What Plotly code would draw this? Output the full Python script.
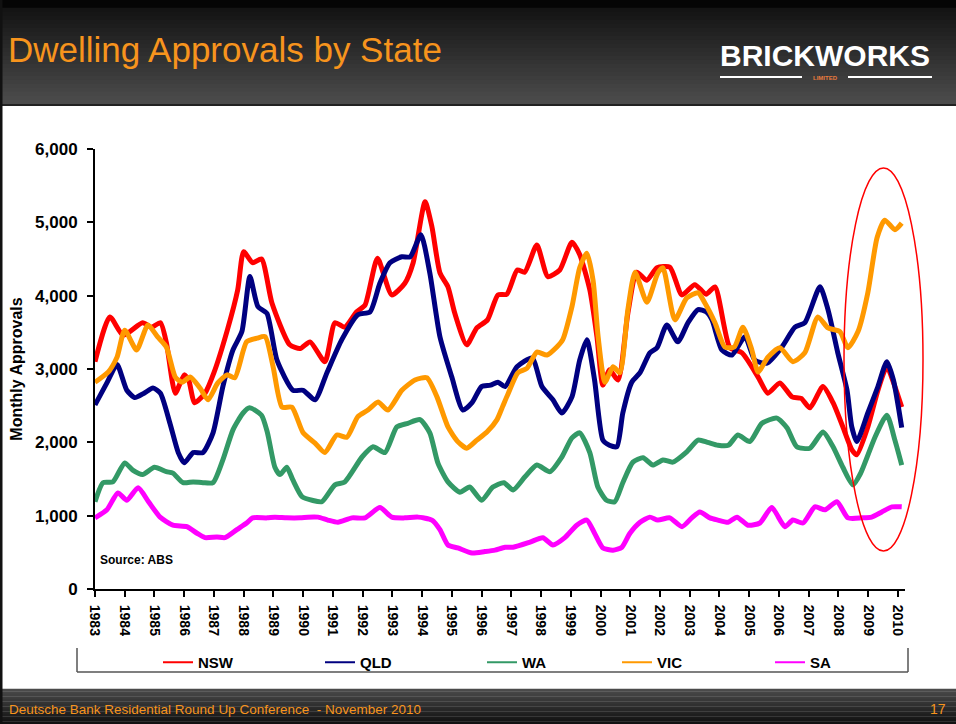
import plotly.graph_objects as go

# ── Data ─────────────────────────────────────────────────────────────────────
YEARS = list(range(1983, 2011))

NSW_X = [1983.0, 1983.5, 1983.95, 1984.6, 1984.9, 1985.2, 1985.4, 1985.7, 1986.0, 1986.15,
         1986.35, 1986.7, 1987.0, 1987.45, 1987.8, 1988.0, 1988.3, 1988.6, 1988.95, 1989.55,
         1989.9, 1990.23, 1990.73, 1991.07, 1991.4, 1991.8, 1992.08, 1992.5, 1992.98, 1993.42,
         1993.7, 1994.1, 1994.33, 1994.6, 1994.87, 1995.1, 1995.5, 1995.84, 1996.2, 1996.55,
         1996.85, 1997.2, 1997.45, 1997.86, 1998.23, 1998.63, 1999.04, 1999.3, 1999.64, 1999.88,
         2000.08, 2000.3, 2000.59, 2000.92, 2001.22, 2001.56, 2001.9, 2002.33, 2002.74, 2003.17,
         2003.55, 2003.85, 2004.35, 2004.76, 2005.3, 2005.63, 2006.03, 2006.44, 2006.75, 2007.04,
         2007.48, 2007.82, 2008.15, 2008.45, 2008.62, 2008.99, 2009.33, 2009.63, 2009.9, 2010.13]
NSW = [3100, 3710, 3460, 3630, 3570, 3630, 3360, 2670, 2920, 2850,
       2540, 2670, 2950, 3530, 4080, 4600, 4450, 4500, 3900, 3330,
       3280, 3370, 3100, 3630, 3570, 3780, 3870, 4510, 4010, 4170,
       4450, 5280, 4940, 4310, 4120, 3760, 3330, 3560, 3670, 4010,
       4020, 4350, 4320, 4690, 4260, 4350, 4730, 4560, 4080, 3440,
       2780, 2990, 2850, 3760, 4320, 4210, 4380, 4390, 4010, 4150,
       4020, 4120, 3290, 3220, 2890, 2670, 2810, 2620, 2600, 2470,
       2760, 2540, 2210, 1900, 1830, 2210, 2710, 3030, 2760, 2480]

QLD_X = [1983.0, 1983.4, 1983.74, 1984.07, 1984.34, 1984.65, 1984.95, 1985.2, 1985.52, 1985.8,
         1986.0, 1986.3, 1986.63, 1986.97, 1987.3, 1987.64, 1987.94, 1988.21, 1988.48, 1988.78,
         1989.12, 1989.66, 1990.0, 1990.4, 1990.8, 1991.3, 1991.84, 1992.25, 1992.58, 1992.92,
         1993.32, 1993.6, 1993.96, 1994.26, 1994.6, 1995.0, 1995.37, 1995.68, 1996.0, 1996.3,
         1996.55, 1996.79, 1997.19, 1997.7, 1998.03, 1998.4, 1998.7, 1999.04, 1999.3, 1999.54,
         1999.8, 2000.08, 2000.3, 2000.55, 2000.75, 2001.05, 2001.33, 2001.66, 2001.9, 2002.23,
         2002.6, 2002.94, 2003.28, 2003.55, 2003.75, 2004.08, 2004.42, 2004.86, 2005.19, 2005.6,
         2006.1, 2006.54, 2006.87, 2007.38, 2007.65, 2007.98, 2008.29, 2008.45, 2008.62, 2008.99,
         2009.33, 2009.63, 2009.85, 2010.13]
QLD = [2510, 2810, 3060, 2710, 2610, 2670, 2740, 2670, 2260, 1860,
       1720, 1860, 1860, 2130, 2760, 3260, 3510, 4260, 3850, 3760,
       3120, 2710, 2710, 2580, 2950, 3400, 3740, 3780, 4170, 4450,
       4530, 4530, 4830, 4310, 3440, 2890, 2440, 2540, 2760, 2780,
       2820, 2760, 3030, 3150, 2760, 2580, 2400, 2620, 3120, 3400,
       2850, 2030, 1960, 1940, 2400, 2820, 2950, 3220, 3290, 3600,
       3370, 3630, 3810, 3780, 3670, 3260, 3190, 3440, 3120, 3080,
       3300, 3570, 3630, 4120, 3810, 3220, 2710, 2210, 2010, 2400,
       2760, 3100, 2850, 2200]

WA_X = [1983.0, 1983.27, 1983.6, 1984.0, 1984.27, 1984.6, 1985.0, 1985.4, 1985.62, 1985.96,
        1986.3, 1986.63, 1986.97, 1987.3, 1987.64, 1987.98, 1988.2, 1988.6, 1988.8, 1989.05,
        1989.22, 1989.45, 1989.65, 1989.96, 1990.3, 1990.63, 1991.07, 1991.4, 1991.98, 1992.35,
        1992.75, 1993.15, 1993.52, 1993.93, 1994.26, 1994.53, 1994.87, 1995.27, 1995.6, 1996.0,
        1996.38, 1996.75, 1997.06, 1997.46, 1997.86, 1998.3, 1998.7, 1999.04, 1999.3, 1999.64,
        1999.91, 2000.2, 2000.48, 2000.75, 2001.09, 2001.43, 2001.76, 2002.1, 2002.43, 2002.9,
        2003.28, 2003.6, 2003.95, 2004.3, 2004.62, 2005.02, 2005.43, 2005.93, 2006.27, 2006.6,
        2007.04, 2007.48, 2007.82, 2008.15, 2008.49, 2008.75, 2009.23, 2009.63, 2009.9, 2010.13]
WA = [1190, 1450, 1460, 1720, 1620, 1560, 1660, 1600, 1580, 1450,
      1460, 1450, 1450, 1760, 2170, 2400, 2470, 2370, 2130, 1660,
      1560, 1660, 1490, 1260, 1210, 1190, 1420, 1460, 1800, 1940,
      1860, 2210, 2260, 2310, 2130, 1720, 1460, 1320, 1390, 1210,
      1390, 1450, 1350, 1530, 1690, 1600, 1800, 2060, 2130, 1860,
      1390, 1210, 1190, 1450, 1730, 1790, 1690, 1760, 1730, 1870,
      2030, 2000, 1960, 1960, 2100, 2010, 2260, 2330, 2200, 1940,
      1920, 2140, 1940, 1660, 1420, 1580, 2070, 2370, 2030, 1690]

VIC_X = [1983.0, 1983.45, 1983.74, 1984.0, 1984.4, 1984.78, 1985.1, 1985.4, 1985.7, 1985.93,
         1986.2, 1986.53, 1986.8, 1987.13, 1987.44, 1987.7, 1988.1, 1988.45, 1988.72, 1988.99,
         1989.29, 1989.62, 1990.0, 1990.4, 1990.73, 1991.13, 1991.47, 1991.84, 1992.18, 1992.52,
         1992.85, 1993.32, 1993.76, 1994.16, 1994.5, 1994.87, 1995.2, 1995.5, 1995.84, 1996.18,
         1996.52, 1996.7, 1996.9, 1997.22, 1997.53, 1997.86, 1998.2, 1998.53, 1998.73, 1999.04,
         1999.3, 1999.54, 1999.75, 1999.92, 2000.15, 2000.42, 2000.65, 2000.92, 2001.16, 2001.56,
         2001.93, 2002.1, 2002.5, 2002.9, 2003.28, 2003.51, 2003.85, 2004.18, 2004.5, 2004.79,
         2005.09, 2005.3, 2005.63, 2006.03, 2006.47, 2006.87, 2007.31, 2007.65, 2008.05, 2008.32,
         2008.66, 2008.99, 2009.3, 2009.56, 2009.9, 2010.13]
VIC = [2820, 2960, 3160, 3530, 3260, 3600, 3440, 3300, 2890, 2820,
       2890, 2740, 2580, 2810, 2920, 2880, 3370, 3420, 3440, 3030,
       2480, 2480, 2130, 1990, 1860, 2100, 2070, 2350, 2440, 2550,
       2440, 2710, 2850, 2880, 2620, 2210, 2010, 1920, 2030, 2140,
       2310, 2480, 2670, 2950, 3010, 3230, 3190, 3300, 3400, 3850,
       4380, 4580, 4210, 3440, 2820, 3030, 2950, 3810, 4320, 3910,
       4310, 4380, 3670, 3970, 4040, 3900, 3630, 3300, 3300, 3570,
       3260, 2960, 3160, 3290, 3100, 3220, 3710, 3560, 3510, 3290,
       3510, 4040, 4790, 5030, 4900, 4990]

SA_X = [1983.0, 1983.4, 1983.77, 1984.07, 1984.45, 1984.8, 1985.19, 1985.62, 1986.09, 1986.43,
        1986.7, 1987.1, 1987.37, 1987.77, 1988.1, 1988.3, 1988.78, 1989.05, 1989.45, 1989.9,
        1990.16, 1990.5, 1990.83, 1991.17, 1991.64, 1992.08, 1992.58, 1992.98, 1993.42, 1993.86,
        1994.33, 1994.6, 1994.87, 1995.2, 1995.68, 1996.11, 1996.45, 1996.79, 1997.06, 1997.63,
        1998.06, 1998.4, 1998.8, 1999.2, 1999.54, 1999.8, 2000.08, 2000.42, 2000.72, 2000.99,
        2001.33, 2001.66, 2001.93, 2002.33, 2002.74, 2003.07, 2003.34, 2003.68, 2003.95, 2004.29,
        2004.59, 2004.96, 2005.36, 2005.76, 2006.2, 2006.47, 2006.81, 2007.21, 2007.55, 2007.95,
        2008.32, 2008.79, 2009.12, 2009.46, 2009.8, 2010.13]
SA = [970, 1080, 1310, 1210, 1380, 1190, 980, 870, 850, 760,
      700, 710, 700, 810, 900, 970, 970, 980, 970, 970,
      980, 980, 940, 910, 970, 970, 1110, 980, 970, 980,
      940, 810, 600, 560, 490, 510, 530, 570, 570, 640,
      700, 600, 700, 870, 940, 760, 560, 530, 570, 760,
      910, 980, 940, 970, 850, 970, 1050, 970, 940, 910,
      980, 870, 900, 1110, 850, 940, 900, 1120, 1080, 1190,
      970, 970, 980, 1050, 1120, 1120]

SERIES = [
    ("NSW", NSW_X, NSW, "#ff0000", "legend"),
    ("QLD", QLD_X, QLD, "#000080", "legend"),
    ("WA",  WA_X,  WA,  "#339966", "legend"),
    ("VIC", VIC_X, VIC, "#ff9900", "legend2"),
    ("SA",  SA_X,  SA,  "#ff00ff", "legend2"),
]

W, H = 956, 724
ML, MR, MT, MB = 95, 51, 149, 135
SANS = "Liberation Sans, Arial, sans-serif"
ORANGE = "#f7941d"


def _px(x):
    """page pixel x -> paper fraction"""
    return (x - ML) / (W - ML - MR)


def _py(y):
    """page pixel y (from top) -> paper fraction"""
    return (H - MB - y) / (H - MT - MB)


def _band(y0, y1, c0, c1, n=24):
    """Vertical gradient made of thin rectangles (pixel coords)."""
    out = []
    for i in range(n):
        t = i / (n - 1)
        r, g, b = (int(c0[k] + (c1[k] - c0[k]) * t) for k in range(3))
        a = y0 + (y1 - y0) * i / n
        z = y0 + (y1 - y0) * (i + 1) / n
        out.append(dict(type="rect", xref="paper", yref="paper",
                        x0=_px(0), x1=_px(W), y0=_py(z), y1=_py(a) + 0.0005,
                        fillcolor=f"rgb({r},{g},{b})", line_width=0, layer="below"))
    return out


fig = go.Figure()

for name, xs, ys, color, _ in SERIES:
    fig.add_trace(go.Scatter(
        x=xs, y=ys, mode="lines", name=name, showlegend=False,
        line=dict(color=color, width=5, shape="spline", smoothing=0.6),
    ))

# thin legend keys
for name, xs, ys, color, leg in SERIES:
    fig.add_trace(go.Scatter(
        x=[None], y=[None], mode="lines", name=f"<b>{name}</b>", legend=leg,
        line=dict(color=color, width=2),
    ))

shapes = []
# header / footer bars
shapes.append(dict(type="rect", xref="paper", yref="paper", x0=_px(0), x1=_px(W),
                   y0=_py(8), y1=_py(0), fillcolor="#050505", line_width=0, layer="below"))
shapes += _band(8, 104, (20, 20, 20), (76, 76, 76))
shapes.append(dict(type="line", xref="paper", yref="paper", x0=_px(0), x1=_px(W),
                   y0=_py(105), y1=_py(105), line=dict(color="#222", width=2)))
shapes += _band(689, 724, (74, 74, 74), (18, 18, 18), n=14)
shapes.append(dict(type="line", xref="paper", yref="paper", x0=_px(1), x1=_px(1),
                   y0=_py(724), y1=_py(0), line=dict(color="#111", width=3)))

# logo rules
shapes.append(dict(type="line", xref="paper", yref="paper", x0=_px(720), x1=_px(802),
                   y0=_py(77), y1=_py(77), line=dict(color="white", width=2)))
shapes.append(dict(type="line", xref="paper", yref="paper", x0=_px(848), x1=_px(932),
                   y0=_py(77), y1=_py(77), line=dict(color="white", width=2)))

# legend frame (left, bottom, right)
for x0, y0, x1, y1 in [(77, 648, 77, 672), (77, 672, 908, 672), (908, 648, 908, 672)]:
    shapes.append(dict(type="line", xref="paper", yref="paper", x0=_px(x0), x1=_px(x1),
                       y0=_py(y0), y1=_py(y1), line=dict(color="#555", width=1.5)))

# highlight ellipse around 2009-2010
shapes.append(dict(type="circle", xref="paper", yref="paper",
                   x0=_px(844), x1=_px(923), y0=_py(551), y1=_py(168),
                   line=dict(color="#ff0000", width=1.5)))

annotations = [
    dict(text="Dwelling Approvals by State", xref="paper", yref="paper",
         x=_px(6), y=_py(50), xanchor="left", yanchor="middle", showarrow=False,
         font=dict(family=SANS, size=35, color=ORANGE)),
    dict(text="<b>BRICKWORKS</b>", xref="paper", yref="paper",
         x=_px(825), y=_py(56), xanchor="center", yanchor="middle", showarrow=False,
         font=dict(family=SANS, size=30, color="white")),
    dict(text="<b>LIMITED</b>", xref="paper", yref="paper",
         x=_px(825), y=_py(78), xanchor="center", yanchor="middle", showarrow=False,
         font=dict(family=SANS, size=6, color="#e87a3c")),
    dict(text="Deutsche Bank Residential Round Up Conference  - November 2010",
         xref="paper", yref="paper", x=_px(7), y=_py(709), xanchor="left", yanchor="middle",
         showarrow=False, font=dict(family=SANS, size=13.5, color=ORANGE)),
    dict(text="17", xref="paper", yref="paper", x=_px(948), y=_py(709), xanchor="right",
         yanchor="middle", showarrow=False, font=dict(family=SANS, size=14, color=ORANGE)),
    dict(text="<b>Source: ABS</b>", xref="paper", yref="paper", x=_px(98), y=_py(560),
         xanchor="left", yanchor="middle", showarrow=False,
         font=dict(family=SANS, size=12, color="black")),
]

# entrywidth excludes the 40px key, so spacing = entrywidth + 40
_legend_style = dict(orientation="h", xanchor="left", yanchor="top",
                     entrywidthmode="pixels", bgcolor="rgba(0,0,0,0)",
                     font=dict(family=SANS, size=15, color="black"),
                     traceorder="normal")

fig.update_layout(
    width=W, height=H,
    margin=dict(l=ML, r=MR, t=MT, b=MB, autoexpand=False),
    paper_bgcolor="white",
    plot_bgcolor="white",
    shapes=shapes,
    annotations=annotations,
    legend=dict(_legend_style, x=_px(158), y=_py(646), entrywidth=117),
    legend2=dict(_legend_style, x=_px(617), y=_py(646), entrywidth=108),
    xaxis=dict(
        range=[1983, 2010.24], tickmode="array", tickvals=YEARS,
        ticktext=[f"<b>{y}</b>" for y in YEARS], tickangle=90,
        tickfont=dict(family=SANS, size=14, color="black"),
        showgrid=False, zeroline=False, showline=True, linecolor="black", linewidth=2,
        ticks="outside", ticklen=6, tickcolor="black", tickwidth=1.5,
        ticklabelstandoff=5,
    ),
    yaxis=dict(
        range=[0, 6000], tickvals=[0, 1000, 2000, 3000, 4000, 5000, 6000],
        ticktext=["<b>0</b>", "<b>1,000</b>", "<b>2,000</b>", "<b>3,000</b>",
                  "<b>4,000</b>", "<b>5,000</b>", "<b>6,000</b>"],
        tickfont=dict(family=SANS, size=17, color="black"),
        title=dict(text="<b>Monthly Approvals</b>", standoff=8,
                   font=dict(family=SANS, size=16, color="black")),
        showgrid=False, zeroline=False, showline=True, linecolor="black", linewidth=2,
        ticks="outside", ticklen=6, tickcolor="black", tickwidth=1.5,
        ticklabelstandoff=6,
    ),
)

fig.write_html(
    "out.html",
    config={"responsive": False, "displayModeBar": False},
    post_script="document.body.style.margin = '0px'; document.body.style.overflow = 'hidden';",
)
